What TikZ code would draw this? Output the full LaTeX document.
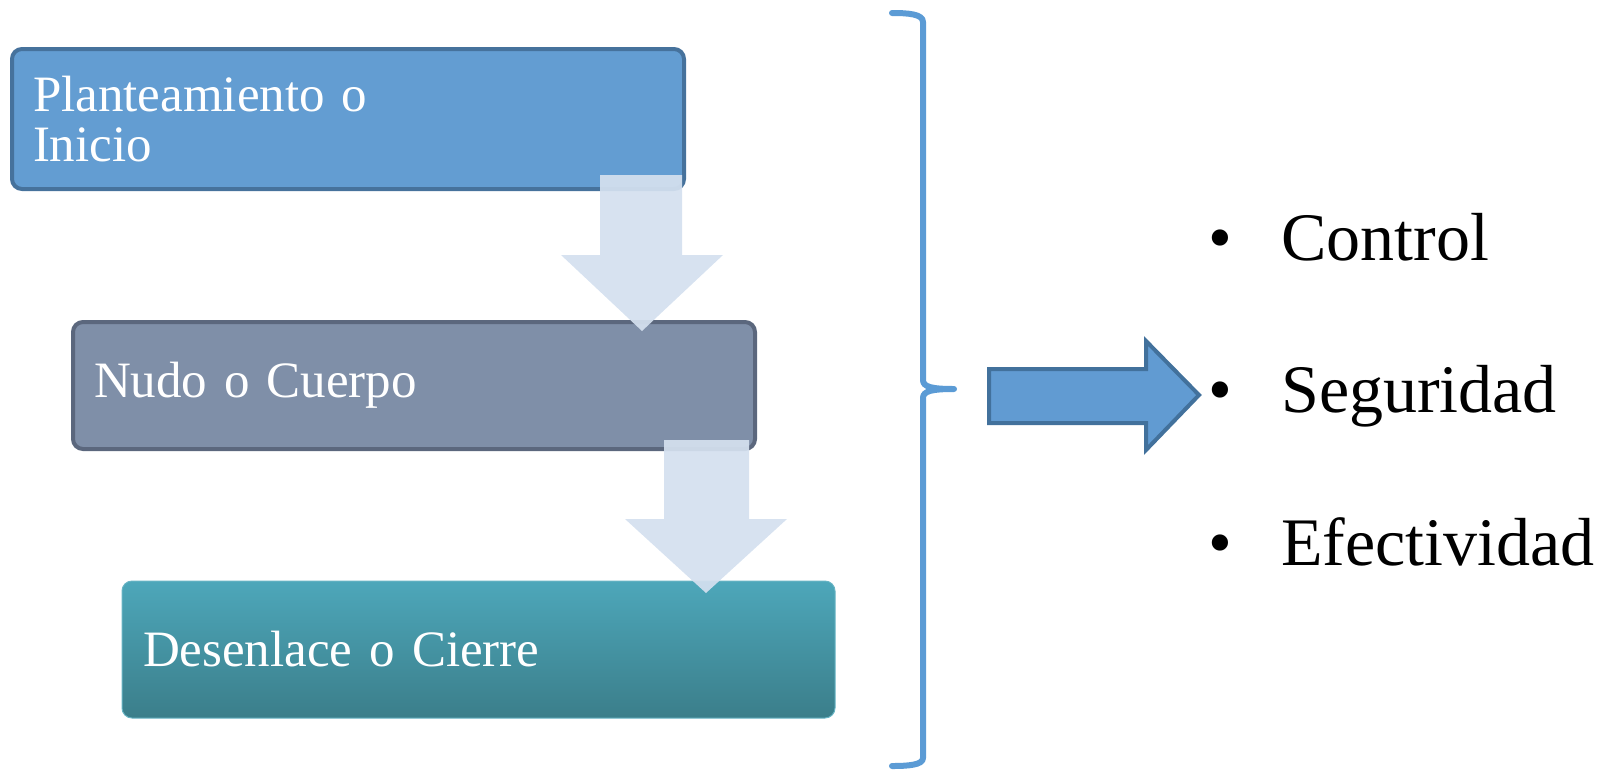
\documentclass[tikz,border=0pt]{standalone}
\usepackage{fontspec}
\setmainfont{Liberation Serif}
\definecolor{boxblue}{RGB}{99,157,210}
\definecolor{boxblueedge}{RGB}{70,114,156}
\definecolor{boxslate}{RGB}{127,143,168}
\definecolor{boxslateedge}{RGB}{91,103,125}
\definecolor{tealtop}{RGB}{77,167,186}
\definecolor{tealbot}{RGB}{59,126,138}
\definecolor{flowarrow}{RGB}{212,224,239}
\definecolor{bracecol}{RGB}{91,155,213}
\definecolor{bigarrow}{RGB}{97,155,210}
\definecolor{bigarrowedge}{RGB}{66,113,156}
\begin{document}
\begin{tikzpicture}[x=1pt,y=-1pt,
  stage/.style={rounded corners=10pt, text=white, align=left,
    inner xsep=21pt, inner ysep=0pt,
    font=\fontsize{51}{50}\selectfont},
  flow/.style={fill=flowarrow, opacity=0.93},
  itemtext/.style={anchor=base west, inner sep=0pt, font=\fontsize{68}{80}\selectfont},
  itemdot/.style={anchor=base, inner sep=0pt, font=\fontsize{68}{80}\selectfont}]
\useasboundingbox (0,0) rectangle (1597,772);

% three stages
\node[stage, fill=boxblue, draw=boxblueedge, line width=4pt,
      minimum height=140pt, text width=630pt] (b1) at (348,119)
      {Planteamiento o\\Inicio};
\node[stage, fill=boxslate, draw=boxslateedge, line width=4pt,
      minimum height=127pt, text width=640pt] (b2) at (414,385.5)
      {Nudo o Cuerpo};
\node[stage, top color=tealtop, bottom color=tealbot, draw=tealtop!85!white, line width=1pt,
      minimum height=137pt, text width=671pt] (b3) at (478.5,649.5)
      {Desenlace o Cierre};

% arrows between stages
\fill[flow] (600,175) -- (682,175) -- (682,255) -- (723,255) -- (642,331)
  -- (561,255) -- (600,255) -- cycle;
\fill[flow] (664,440) -- (749,440) -- (749,519) -- (787,519) -- (706,593)
  -- (625,519) -- (664,519) -- cycle;

% brace
\draw[bracecol, line width=6pt, line cap=round, line join=round]
  (892,13) .. controls (908,13) and (923,14) .. (923,22) -- (923,380)
  .. controls (923,387) and (932,389) .. (954,389)
  .. controls (932,389) and (923,391) .. (923,398) -- (923,758)
  .. controls (923,765) and (908,766) .. (892,766);

% big arrow
\filldraw[fill=bigarrow, draw=bigarrowedge, line width=4pt, line join=miter]
  (989,369) -- (1146,369) -- (1146,341) -- (1199,395) -- (1146,450)
  -- (1146,423) -- (989,423) -- cycle;

% list
\node[itemdot] (d1) at (1220,260) {•};
\node[itemtext] (t1) at (1281,260) {Control};
\node[itemdot] (d2) at (1220,412) {•};
\node[itemtext] (t2) at (1281,412) {Seguridad};
\node[itemdot] (d3) at (1220,565) {•};
\node[itemtext] (t3) at (1281,565) {Efectividad};
\end{tikzpicture}
\end{document}
